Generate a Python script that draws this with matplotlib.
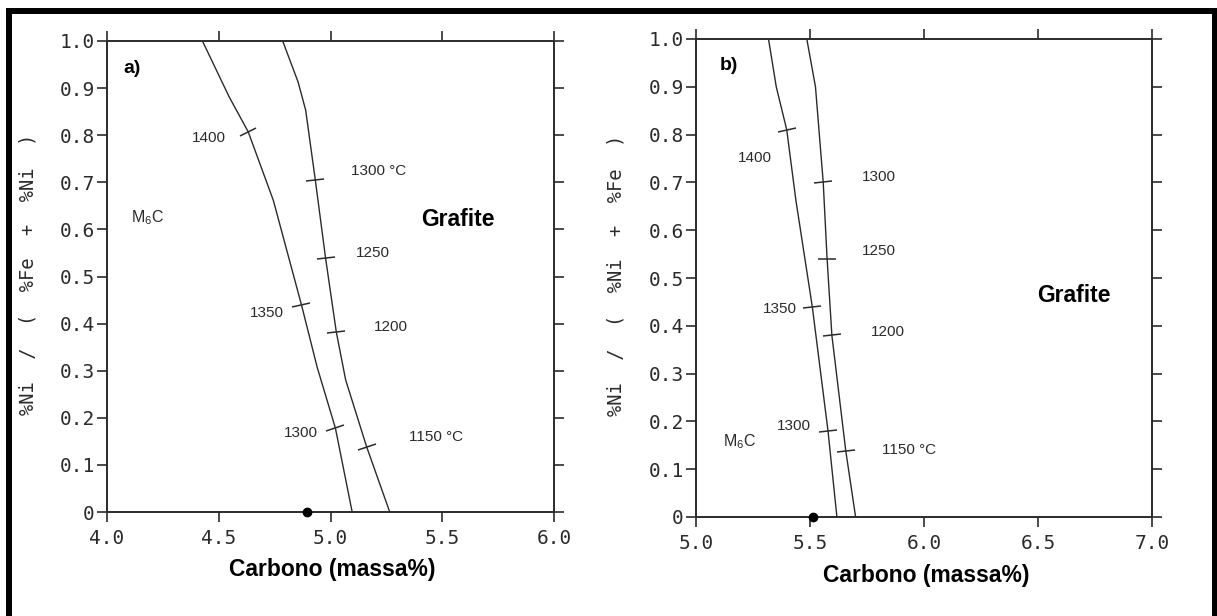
import numpy as np
import matplotlib
matplotlib.use("Agg")
import matplotlib.pyplot as plt
from matplotlib.markers import MarkerStyle
from matplotlib.transforms import Affine2D
from matplotlib.lines import Line2D

# ---------------------------------------------------------------- data
# a) boundary curves, carbon (mass %) vs Ni/(Ni+Fe)
a_esq_c = [4.427, 4.547, 4.632, 4.744, 4.870, 4.940, 5.022, 5.097]
a_esq_r = [1.000, 0.881, 0.807, 0.662, 0.440, 0.308, 0.178, 0.000]
a_dir_c = [4.786, 4.855, 4.889, 4.932, 4.978, 5.026, 5.068, 5.162, 5.265]
a_dir_r = [1.000, 0.913, 0.853, 0.705, 0.539, 0.382, 0.280, 0.138, 0.000]
# isotherms marked on the a) curves
a_iso_c = [4.632, 4.870, 5.022, 4.932, 4.978, 5.026, 5.162]
a_iso_r = [0.807, 0.440, 0.178, 0.705, 0.539, 0.382, 0.138]
a_iso_txt = ["1400", "1350", "1300", "1300 °C", "1250", "1200", "1150 °C"]
a_ponto = (4.897, 0.0)

# b) boundary curves
b_esq_c = [5.318, 5.352, 5.398, 5.438, 5.510, 5.579, 5.618]
b_esq_r = [1.000, 0.900, 0.810, 0.663, 0.440, 0.180, 0.000]
b_dir_c = [5.486, 5.524, 5.558, 5.575, 5.596, 5.657, 5.700]
b_dir_r = [1.000, 0.900, 0.700, 0.540, 0.380, 0.138, 0.000]
b_iso_c = [5.398, 5.510, 5.579, 5.558, 5.575, 5.596, 5.657]
b_iso_r = [0.810, 0.440, 0.180, 0.700, 0.540, 0.380, 0.138]
b_iso_txt = ["1400", "1350", "1300", "1300", "1250", "1200", "1150 °C"]
b_ponto = (5.515, 0.0)

y_ticks = [0.0, 0.1, 0.2, 0.3, 0.4, 0.5, 0.6, 0.7, 0.8, 0.9, 1.0]
y_ticklabels = ["0", "0.1", "0.2", "0.3", "0.4", "0.5", "0.6", "0.7", "0.8", "0.9", "1.0"]
a_xticks = [4.0, 4.5, 5.0, 5.5, 6.0]
a_xticklabels = ["4.0", "4.5", "5.0", "5.5", "6.0"]
b_xticks = [5.0, 5.5, 6.0, 6.5, 7.0]
b_xticklabels = ["5.0", "5.5", "6.0", "6.5", "7.0"]

# ---------------------------------------------------------------- style
INK = "#2b2b2b"
MONO = "DejaVu Sans Mono"
SANS = "Liberation Sans"

W, H = 1217, 616
fig = plt.figure(figsize=(W / 100, H / 100), dpi=100)
fig.patch.set_facecolor("white")


def px_axes(left, right, top, bottom):
    return fig.add_axes([left / W, (H - bottom) / H, (right - left) / W, (bottom - top) / H])


ax_a = px_axes(107, 554, 41, 512)
ax_b = px_axes(696, 1152, 39, 517)


def style_axes(ax, xlim, xticks, xticklabels, ylabel):
    ax.set_xlim(*xlim)
    ax.set_ylim(0, 1)
    ax.set_xticks(xticks)
    ax.set_xticklabels(xticklabels)
    ax.set_yticks(y_ticks)
    ax.set_yticklabels(y_ticklabels)
    for s in ax.spines.values():
        s.set_linewidth(1.4)
        s.set_color(INK)
    ax.tick_params(axis="both", which="both", direction="out", length=7.5, width=1.2,
                   color=INK, top=True, right=True, labelcolor=INK)
    ax.tick_params(axis="x", pad=5)
    ax.tick_params(axis="y", pad=1.5)
    for lab in ax.get_xticklabels() + ax.get_yticklabels():
        lab.set_fontfamily(MONO)
        lab.set_fontsize(14)
    ax.set_ylabel(ylabel, fontfamily=MONO, fontsize=13.5, color=INK)
    ax.yaxis.label.set_va("center")
    ax.yaxis.set_label_coords(-0.176, 0.505)
    ax.set_xlabel("Carbono (massa%)", fontfamily=SANS, fontweight="bold",
                  fontsize=16.5, color="black")
    ax.xaxis.set_label_coords(0.505, -0.122)
    ax.xaxis.label.set_va("center")


style_axes(ax_a, (4.0, 6.0), a_xticks, a_xticklabels, "%Ni  /  (  %Fe  +  %Ni  )")
style_axes(ax_b, (5.0, 7.0), b_xticks, b_xticklabels, "%Ni  /  (  %Ni  +  %Fe  )")


def draw_curve(ax, cs, rs):
    ax.plot(cs, rs, color=INK, lw=1.0, clip_on=False, solid_capstyle="butt")


def iso_marks(ax, curves, ic, ir):
    # short dashes across the curve, perpendicular in screen space
    for c, r in zip(ic, ir):
        best = None
        for cs, rs in curves:
            for i in range(len(cs) - 1):
                if min(rs[i], rs[i + 1]) - 1e-9 <= r <= max(rs[i], rs[i + 1]) + 1e-9:
                    p0 = ax.transData.transform((cs[i], rs[i]))
                    p1 = ax.transData.transform((cs[i + 1], rs[i + 1]))
                    t = (r - rs[i]) / (rs[i + 1] - rs[i])
                    cc = cs[i] + t * (cs[i + 1] - cs[i])
                    d = abs(cc - c)
                    if best is None or d < best[0]:
                        best = (d, p1 - p0)
        ang = np.degrees(np.arctan2(best[1][1], best[1][0])) + 90
        m = MarkerStyle("_", transform=Affine2D().rotate_deg(ang))
        ax.plot([c], [r], marker=m, ms=13, mew=1.1, color=INK, ls="none", clip_on=False)


def put(ax, x, y, s, size=11):
    ax.text(x, y, s, fontsize=size, fontfamily=SANS, color=INK, ha="center", va="center")


def bold(ax, x, y, s, size):
    ax.text(x, y, s, fontsize=size, fontfamily=SANS, fontweight="bold",
            color="black", ha="center", va="center")


# ---------------------------------------------------------------- a)
draw_curve(ax_a, a_esq_c, a_esq_r)
draw_curve(ax_a, a_dir_c, a_dir_r)
iso_marks(ax_a, [(a_esq_c, a_esq_r), (a_dir_c, a_dir_r)], a_iso_c, a_iso_r)
ax_a.plot([a_ponto[0]], [a_ponto[1]], "o", ms=6, color="black", clip_on=False, zorder=5)

a_lbl_pos = [(4.458, 0.794), (4.717, 0.422), (4.868, 0.168), (5.214, 0.724),
             (5.190, 0.550), (5.268, 0.393), (5.473, 0.160)]
for (x, y), s in zip(a_lbl_pos, a_iso_txt):
    put(ax_a, x, y, s)
put(ax_a, 4.18, 0.626, r"M$_\mathregular{6}$C", size=11.5)
bold(ax_a, 5.57, 0.620, "Grafite", 16.5)
bold(ax_a, 4.11, 0.942, "a)", 14)

# ---------------------------------------------------------------- b)
draw_curve(ax_b, b_esq_c, b_esq_r)
draw_curve(ax_b, b_dir_c, b_dir_r)
iso_marks(ax_b, [(b_esq_c, b_esq_r), (b_dir_c, b_dir_r)], b_iso_c, b_iso_r)
ax_b.plot([b_ponto[0]], [b_ponto[1]], "o", ms=6, color="black", clip_on=False, zorder=5)

b_lbl_pos = [(5.26, 0.750), (5.37, 0.435), (5.43, 0.190), (5.80, 0.712),
             (5.80, 0.556), (5.84, 0.387), (5.936, 0.140)]
for (x, y), s in zip(b_lbl_pos, b_iso_txt):
    put(ax_b, x, y, s)
put(ax_b, 5.19, 0.157, r"M$_\mathregular{6}$C", size=11.5)
bold(ax_b, 6.657, 0.464, "Grafite", 16.5)
bold(ax_b, 5.146, 0.944, "b)", 14)

# ---------------------------------------------------------------- frame
frame_kw = dict(color="black", lw=4.3, transform=fig.transFigure, solid_capstyle="projecting")
fig.add_artist(Line2D([9 / W, 9 / W], [0, 1 - 11 / H], **frame_kw))
fig.add_artist(Line2D([9 / W, 1214.5 / W], [1 - 11 / H, 1 - 11 / H], **frame_kw))
fig.add_artist(Line2D([1214.5 / W, 1214.5 / W], [0, 1 - 11 / H], **frame_kw))

fig.savefig("out.png", dpi=100, facecolor="white")
